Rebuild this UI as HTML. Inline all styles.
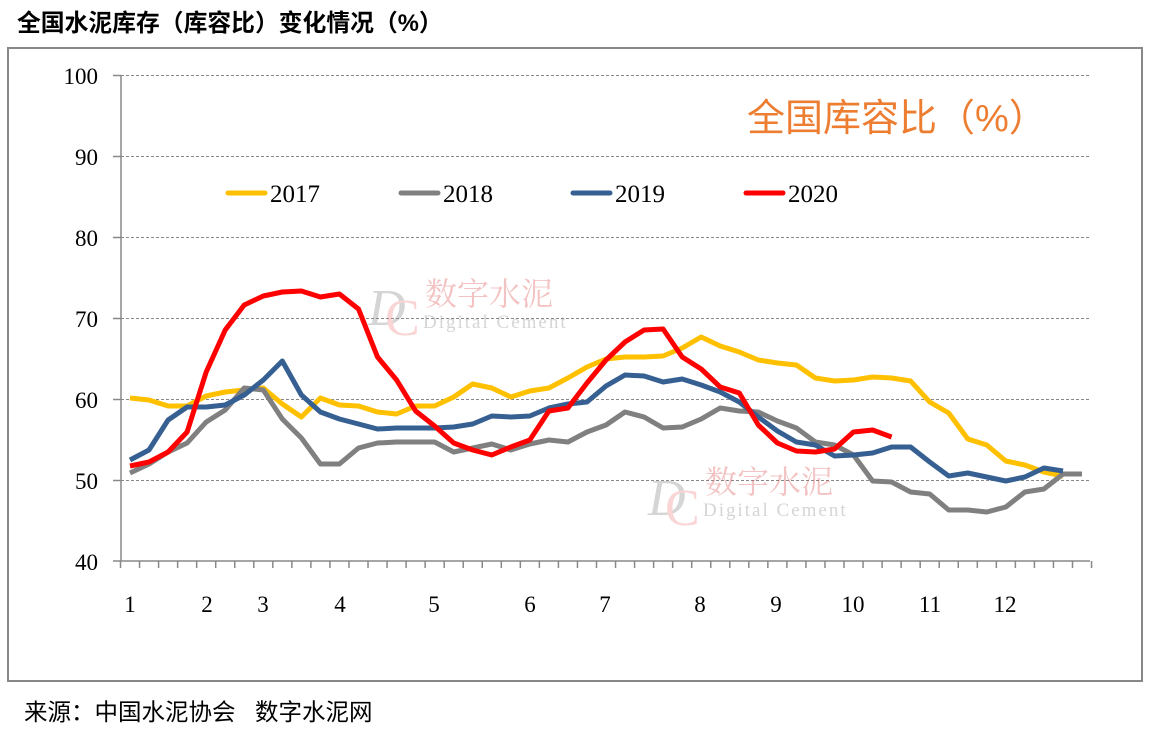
<!DOCTYPE html>
<html><head><meta charset="utf-8"><style>
body{margin:0;background:#fff;width:1149px;height:755px;overflow:hidden}
svg{display:block}
</style></head><body>
<svg id="s" width="1149" height="755" xmlns="http://www.w3.org/2000/svg">
<text x="17" y="31" font-family="'Liberation Sans','Noto Sans CJK SC',sans-serif" font-size="23.8" font-weight="bold" fill="#000">全国水泥库存（库容比）变化情况（%）</text>
<rect x="8" y="48" width="1134" height="633" fill="none" stroke="#888" stroke-width="2"/>
<g stroke="#888" stroke-width="1" stroke-dasharray="3,2">
<line x1="121" y1="75.5" x2="1090" y2="75.5"/><line x1="121" y1="156.5" x2="1090" y2="156.5"/><line x1="121" y1="237.5" x2="1090" y2="237.5"/><line x1="121" y1="318.5" x2="1090" y2="318.5"/><line x1="121" y1="399.5" x2="1090" y2="399.5"/><line x1="121" y1="480.5" x2="1090" y2="480.5"/>
</g>
<g stroke="#888" stroke-width="1.5" id="ax">
<line x1="121" y1="75" x2="121" y2="561"/><line x1="121" y1="561" x2="1090" y2="561"/>
<line x1="113" y1="75.5" x2="121" y2="75.5"/><line x1="113" y1="156.5" x2="121" y2="156.5"/><line x1="113" y1="237.5" x2="121" y2="237.5"/><line x1="113" y1="318.5" x2="121" y2="318.5"/><line x1="113" y1="399.5" x2="121" y2="399.5"/><line x1="113" y1="480.5" x2="121" y2="480.5"/><line x1="113" y1="561" x2="121" y2="561"/>
</g>
<g font-family="'Liberation Serif',serif" font-size="23" fill="#000" text-anchor="end">
<text x="98" y="84">100</text><text x="98" y="165">90</text><text x="98" y="246">80</text><text x="98" y="327">70</text><text x="98" y="408">60</text><text x="98" y="489">50</text><text x="98" y="570">40</text>
</g>
<g font-family="'Liberation Serif',serif" font-size="23" fill="#000" text-anchor="middle">
<text x="130" y="612">1</text><text x="207" y="612">2</text><text x="263" y="612">3</text><text x="340" y="612">4</text><text x="434" y="612">5</text><text x="530" y="612">6</text><text x="605" y="612">7</text><text x="700" y="612">8</text><text x="776" y="612">9</text><text x="853" y="612">10</text><text x="930" y="612">11</text><text x="1005" y="612">12</text>
</g>
<g opacity="0.35" font-family="'Liberation Serif',serif">
<text x="368" y="325" font-size="52" font-style="italic" fill="#888">D</text><text x="385" y="335" font-size="52" fill="#e88">C</text>
<text x="425" y="305" font-size="32" fill="#d55" font-family="'Noto Serif CJK SC',serif">数字水泥</text>
<text x="423" y="328" font-size="19" fill="#888" letter-spacing="2">Digital Cement</text>
<text x="648" y="515" font-size="52" font-style="italic" fill="#888">D</text><text x="665" y="525" font-size="52" fill="#e88">C</text>
<text x="705" y="493" font-size="32" fill="#d55" font-family="'Noto Serif CJK SC',serif">数字水泥</text>
<text x="703" y="516" font-size="19" fill="#888" letter-spacing="2">Digital Cement</text>
</g>
<text x="747" y="131" font-family="'Liberation Sans','Noto Sans CJK SC',sans-serif" font-size="38" fill="#ED7D31">全国库容比（%）</text>
<g stroke-width="5" stroke-linecap="round">
<line x1="228" y1="193" x2="265" y2="193" stroke="#FFC000"/>
<line x1="401" y1="193" x2="438" y2="193" stroke="#808080"/>
<line x1="573" y1="193" x2="610" y2="193" stroke="#376092"/>
<line x1="746" y1="193" x2="783" y2="193" stroke="#FF0000"/>
</g>
<g font-family="'Liberation Serif',serif" font-size="25" fill="#000">
<text x="270" y="202">2017</text><text x="443" y="202">2018</text><text x="615" y="202">2019</text><text x="788" y="202">2020</text>
</g>
<g id="lines" fill="none" stroke-width="5" stroke-linejoin="round"></g>
<text x="24" y="720" font-family="'Liberation Sans','Noto Sans CJK SC',sans-serif" font-size="23.5" fill="#000">来源：中国水泥协会</text>
<text x="255" y="720" font-family="'Liberation Sans','Noto Sans CJK SC',sans-serif" font-size="23.5" fill="#000">数字水泥网</text>
</svg>
<script>
var NS="http://www.w3.org/2000/svg";
var step=19.04,x0=130;
var d={
"#FFC000":[398,400,406,406,396,392,390,388,404,417,398,405,406,412,414,406,406,397,384,388,397,391,388,378,367,359,357,357,356,348,337,346,352,360,363,365,378,381,380,377,378,381,402,413,439,445,461,465,472,476],
"#808080":[473,464,452,443,422,410,388,390,419,438,464,464,448,443,442,442,442,452,448,444,450,444,440,442,432,425,412,417,428,427,419,408,411,412,421,428,442,445,455,481,482,492,494,510,510,512,507,492,489,474,474],
"#376092":[460,450,420,407,407,405,395,380,361,395,412,419,424,429,428,428,428,427,424,416,417,416,408,404,402,386,375,376,382,379,385,392,402,417,431,442,445,456,455,453,447,447,462,476,473,477,481,477,468,471],
"#FF0000":[466,462,452,432,372,330,305,296,292,291,297,294,309,357,380,411,426,443,450,455,447,440,411,408,383,360,342,330,329,357,369,387,393,425,443,451,452,449,432,430,437]
};
var g=document.getElementById("lines");
var ax=document.getElementById("ax");
for(var i=0;i<52;i++){var l=document.createElementNS(NS,"line");var x=x0-9.5+i*step;l.setAttribute("x1",x);l.setAttribute("x2",x);l.setAttribute("y1",561);l.setAttribute("y2",568);ax.appendChild(l);}
for(var c in d){var p=d[c].map(function(y,i){return (x0+i*step).toFixed(1)+","+y}).join(" ");
var pl=document.createElementNS(NS,"polyline");pl.setAttribute("points",p);pl.setAttribute("stroke",c);g.appendChild(pl);}
</script>
</body></html>
